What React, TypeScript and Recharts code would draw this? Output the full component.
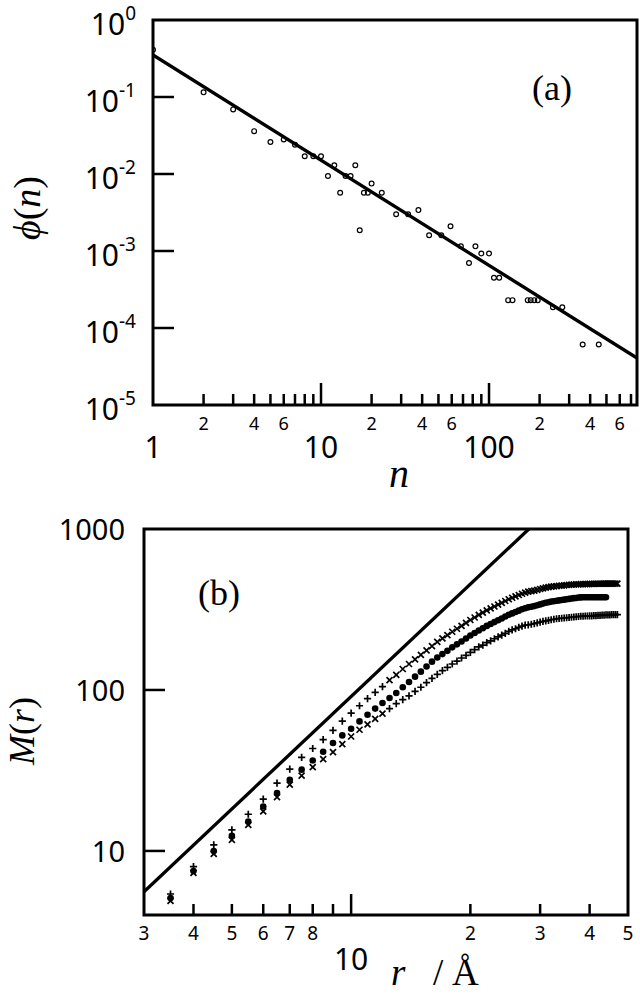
import { ScatterChart, Scatter, XAxis, YAxis, ReferenceArea } from 'recharts';

// (a) cluster size distribution phi(n)
const sizeN = [1, 2, 3, 4, 5, 6, 7, 8, 9, 10, 11, 12, 13, 14, 15, 16, 17, 18, 19, 20,
  23, 28, 33, 38, 44, 52, 59, 68, 76, 83, 90, 100, 107, 115, 130, 138, 170, 177, 186, 195,
  240, 273, 361, 450];
const sizePhi = [0.41, 0.115, 0.069, 0.036, 0.026, 0.028, 0.024, 0.017, 0.017, 0.017,
  0.0094, 0.013, 0.0057, 0.0094, 0.0094, 0.013, 0.00186, 0.0057, 0.0057, 0.0075,
  0.0057, 0.003, 0.003, 0.0034, 0.0016, 0.0016, 0.0021, 0.00115, 0.0007, 0.00115,
  0.00093, 0.00093, 0.00045, 0.00045, 0.00023, 0.00023, 0.00023, 0.00023, 0.00023, 0.00023,
  0.000186, 0.000186, 0.000061, 0.000061];
// power-law fit, end points
const fitN = [1, 760];
const fitPhi = [0.351, 0.0000407];

const nTicks = [1, 2, 3, 4, 5, 6, 7, 8, 9, 10, 20, 30, 40, 50, 60, 70, 80, 90, 100, 200, 300, 400, 500, 600, 700];
const phiTicks = [1, 0.1, 0.01, 0.001, 0.0001, 0.00001];

// (b) mass M(r) inside radius r, three runs
const radius = [3.5, 4, 4.5, 5, 5.5, 6, 6.5, 7, 7.5, 8,
  8.5, 9, 9.5, 10, 10.5, 11, 11.5, 12, 12.5, 13,
  13.5, 14, 14.5, 15, 15.5, 16, 16.5, 17, 17.5, 18,
  18.5, 19, 19.5, 20, 20.5, 21, 21.5, 22, 22.5, 23,
  23.5, 24, 24.5, 25, 25.5, 26, 26.5, 27, 27.5, 28,
  28.5, 29, 29.5, 30, 30.5, 31, 31.5, 32, 32.5, 33,
  33.5, 34, 34.5, 35, 35.5, 36, 36.5, 37, 37.5, 38,
  38.5, 39, 39.5, 40, 40.5, 41, 41.5, 42, 42.5, 43,
  43.5, 44, 44.5, 45, 45.5, 46, 46.5, 47];
const massUpper = [5.4, 8.0, 10.9, 13.5, 16.9, 21.0, 26.4, 32.2, 38.1, 43.3,
  49.1, 56.1, 64.1, 71.9, 79.8, 88.3, 96.6, 105, 115, 124,
  135, 145, 155, 165, 176, 187, 199, 209, 219, 230,
  240, 250, 261, 272, 282, 293, 302, 312, 321, 330,
  339, 348, 357, 366, 374, 381, 389, 396, 402, 408,
  411, 414, 419, 424, 428, 432, 435, 438, 440, 442,
  444, 445, 447, 449, 450, 451, 452, 453, 453, 454,
  454, 455, 455, 456, 456, 456, 457, 457, 457, 457,
  458, 458, 458, 458, 458, 458, 458, 458];
const massMiddle = [5.1, 7.5, 10.0, 12.4, 15.2, 18.9, 22.9, 27.7, 32.0, 36.5,
  41.3, 46.8, 52.2, 57.4, 63.8, 70.2, 76.6, 83.0, 89.1, 95.7,
  104, 112, 121, 130, 140, 150, 159, 167, 175, 184,
  192, 200, 209, 218, 226, 234, 242, 250, 257, 264,
  271, 278, 286, 293, 299, 305, 311, 317, 322, 326,
  329, 332, 336, 340, 344, 348, 351, 354, 356, 358,
  360, 362, 364, 366, 368, 370, 372, 373, 375, 376,
  377, 377, 377, 377, 377, 377, 377, 377, 377, 377,
  377, 377];
const massLower = [4.9, 7.3, 9.6, 11.7, 14.5, 17.6, 21.6, 25.8, 29.4, 33.2,
  37.2, 41.1, 46.1, 51.4, 56.6, 61.1, 66.2, 71.3, 76.6, 82.2,
  87.1, 92, 98, 104, 111, 118, 125, 132, 138, 145,
  151, 158, 164, 171, 178, 185, 190, 197, 202, 208,
  214, 219, 225, 231, 236, 240, 245, 249, 253, 254,
  256, 258, 261, 264, 267, 269, 271, 273, 275, 277,
  278, 279, 280, 281, 282, 283, 284, 285, 286, 287,
  287, 288, 288, 289, 289, 290, 290, 291, 291, 292,
  292, 293, 293, 293, 294, 294, 294, 294];
// reference slope line, end points
const slopeR = [3, 28.1];
const slopeM = [5.58, 1000];

const rTicks = [3, 4, 5, 6, 7, 8, 9, 10, 20, 30, 40, 50];
const mTicks = [10, 100, 1000];

const pts = (xs: number[], ys: number[]) => ys.map((y, i) => ({ x: xs[i], y }));

const SANS = '"Noto Sans", sans-serif';
const SERIF = '"Liberation Serif", "Times New Roman", serif';
const INK = '#000';

const leadDigit = (v: number) => {
  const e = Math.floor(Math.log10(v) + 1e-9);
  return { e, lead: Math.round(v / Math.pow(10, e)) };
};

const XTickA = (props: any) => {
  const { x, y, payload } = props;
  const v: number = payload.value;
  const { lead } = leadDigit(v);
  const major = lead === 1;
  return (
    <g>
      {v > 1 && <line x1={x} x2={x} y1={y} y2={y - (major ? 22 : 11)} stroke={INK} strokeWidth={2.5} />}
      {major && (
        <text x={x} y={y + 53} textAnchor="middle" fontSize={30} fontFamily={SANS} fill={INK}>{v}</text>
      )}
      {!major && [2, 4, 6].includes(lead) && (
        <text x={x} y={y + 25} textAnchor="middle" fontSize={18} fontFamily={SANS} fill={INK}>{lead}</text>
      )}
    </g>
  );
};

const YTickA = (props: any) => {
  const { x, y, payload } = props;
  const exp = Math.round(Math.log10(payload.value));
  return (
    <g>
      {exp < 0 && exp > -5 && <line x1={x} x2={x + 21} y1={y} y2={y} stroke={INK} strokeWidth={2.5} />}
      <text x={x - 17} y={y + 15} textAnchor="end" fontSize={30} fontFamily={SANS} fill={INK}>
        10<tspan dy={-15} fontSize={19}>{exp}</tspan>
      </text>
    </g>
  );
};

const XTickB = (props: any) => {
  const { x, y, payload } = props;
  const v: number = payload.value;
  const { lead } = leadDigit(v);
  const major = v === 10;
  return (
    <g>
      {v > 3 && v < 50 && <line x1={x} x2={x} y1={y} y2={y - (major ? 21 : 11)} stroke={INK} strokeWidth={2.5} />}
      {major && (
        <text x={x} y={y + 55} textAnchor="middle" fontSize={30} fontFamily={SANS} fill={INK}>10</text>
      )}
      {!major && v !== 9 && (
        <text x={x} y={y + 25} textAnchor="middle" fontSize={19} fontFamily={SANS} fill={INK}>{lead}</text>
      )}
    </g>
  );
};

const YTickB = (props: any) => {
  const { x, y, payload } = props;
  const v: number = payload.value;
  return (
    <g>
      {v < 1000 && <line x1={x} x2={x + 21} y1={y} y2={y} stroke={INK} strokeWidth={2.5} />}
      <text x={x - 19} y={y + 11} textAnchor="end" fontSize={29} fontFamily={SANS} fill={INK}>{v}</text>
    </g>
  );
};

// marker shapes
const ring = (p: any) => <circle cx={p.cx} cy={p.cy} r={2.4} fill="none" stroke={INK} strokeWidth={1.2} />;
const dot = (p: any) => <circle cx={p.cx} cy={p.cy} r={3.3} fill={INK} />;
const plus = (p: any) => (
  <path d={`M${p.cx - 3.6},${p.cy}h7.2M${p.cx},${p.cy - 3.6}v7.2`} stroke={INK} strokeWidth={1.7} fill="none" />
);
const cross = (p: any) => (
  <path d={`M${p.cx - 3},${p.cy - 3}l6,6M${p.cx - 3},${p.cy + 3}l6,-6`} stroke={INK} strokeWidth={1.7} fill="none" />
);
const blank = () => <g />;
// the two outer runs change marker past r = 12.5
const upperMark = (p: any) => (p.payload?.x < 12.5 ? plus(p) : cross(p));
const lowerMark = (p: any) => (p.payload?.x < 12.5 ? cross(p) : plus(p));

export default function App() {
  return (
    <div style={{ position: 'absolute', left: 0, top: 0, width: 640, height: 995, background: '#fff', overflow: 'hidden' }}>
      <div style={{ position: 'absolute', left: 0, top: 0 }}>
        <ScatterChart width={640} height={470} margin={{ top: 20, right: 3, bottom: 0, left: 0 }}>
          <XAxis type="number" dataKey="x" scale="log" domain={[1, 760]} allowDataOverflow
            ticks={nTicks} interval={0} tick={<XTickA />} tickLine={false} axisLine={false}
            tickSize={0} tickMargin={0} height={65} />
          <YAxis type="number" dataKey="y" scale="log" domain={[0.00001, 1]} allowDataOverflow
            ticks={phiTicks} interval={0} tick={<YTickA />} tickLine={false} axisLine={false}
            tickSize={0} tickMargin={0} width={153} />
          <ReferenceArea x1={1} x2={760} y1={0.00001} y2={1} fill="none" stroke={INK} strokeWidth={3} />
          <Scatter data={pts(fitN, fitPhi)} line={{ stroke: INK, strokeWidth: 3.3 }} shape={blank} isAnimationActive={false} />
          <Scatter data={pts(sizeN, sizePhi)} shape={ring} isAnimationActive={false} />
        </ScatterChart>
      </div>
      <div style={{ position: 'absolute', left: 0, top: 470 }}>
        <ScatterChart width={640} height={525} margin={{ top: 59, right: 12, bottom: 0, left: 0 }}>
          <XAxis type="number" dataKey="x" scale="log" domain={[3, 50]} allowDataOverflow
            ticks={rTicks} interval={0} tick={<XTickB />} tickLine={false} axisLine={false}
            tickSize={0} tickMargin={0} height={80} />
          <YAxis type="number" dataKey="y" scale="log" domain={[4, 1000]} allowDataOverflow
            ticks={mTicks} interval={0} tick={<YTickB />} tickLine={false} axisLine={false}
            tickSize={0} tickMargin={0} width={144} />
          <ReferenceArea x1={3} x2={50} y1={4} y2={1000} fill="none" stroke={INK} strokeWidth={3} />
          <Scatter data={pts(slopeR, slopeM)} line={{ stroke: INK, strokeWidth: 3.3 }} shape={blank} isAnimationActive={false} />
          <Scatter data={pts(radius, massUpper)} shape={upperMark} isAnimationActive={false} />
          <Scatter data={pts(radius, massMiddle)} shape={dot} isAnimationActive={false} />
          <Scatter data={pts(radius, massLower)} shape={lowerMark} isAnimationActive={false} />
        </ScatterChart>
      </div>
      <svg width={640} height={995} style={{ position: 'absolute', left: 0, top: 0, pointerEvents: 'none' }}>
        <g fontFamily={SERIF} fill={INK}>
          <text x={532} y={100} fontSize={36}>(a)</text>
          <text x={198} y={605} fontSize={36}>(b)</text>
          <text transform="translate(40,208) rotate(-90)" textAnchor="middle" fontSize={38}>
            <tspan fontStyle="italic">ϕ</tspan>(<tspan fontStyle="italic">n</tspan>)
          </text>
          <text x={399} y={487} textAnchor="middle" fontSize={40} fontStyle="italic">n</text>
          <text transform="translate(34,731) rotate(-90)" textAnchor="middle" fontSize={36}>
            <tspan fontStyle="italic">M</tspan>(<tspan fontStyle="italic">r</tspan>)
          </text>
          <text x={391} y={985} fontSize={37} fontStyle="italic">r</text>
          <text x={433} y={985} fontSize={37}>/</text>
          <text x={452} y={985} fontSize={37}>Å</text>
        </g>
      </svg>
    </div>
  );
}
